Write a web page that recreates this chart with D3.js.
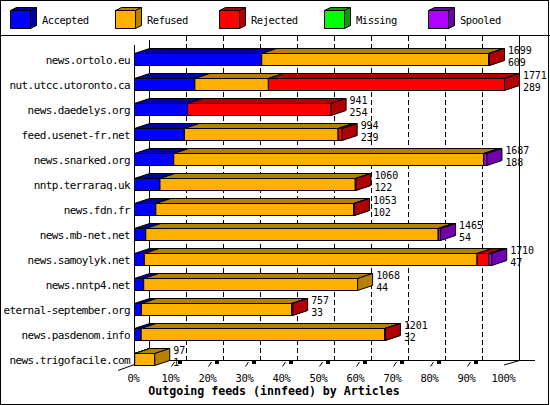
<!DOCTYPE html>
<html><head><meta charset="utf-8">
<script src="https://cdn.jsdelivr.net/npm/d3@7"></script>
<style>
html,body{margin:0;padding:0;background:#fff;}
svg{display:block;}
text{font-family:"DejaVu Sans Mono","Liberation Mono",monospace;}
</style></head>
<body>
<script>
const hosts = ["news.ortolo.eu","nut.utcc.utoronto.ca","news.daedelys.org","feed.usenet-fr.net","news.snarked.org","nntp.terraraq.uk","news.fdn.fr","news.mb-net.net","news.samoylyk.net","news.nntp4.net","eternal-september.org","news.pasdenom.info","news.trigofacile.com"];
const accepted = [609,289,254,239,188,122,102,54,47,44,33,32,1];
const refused  = [1086,352,0,736,1484,935,948,1400,1593,1024,720,1166,96];
const rejected = [4,1130,687,19,0,3,3,0,56,0,4,3,0];
const missing  = [0,0,0,0,0,0,0,0,0,0,0,0,0];
const spooled  = [0,0,0,0,15,0,0,11,14,0,0,0,0];
const seriesNames = ["Accepted","Refused","Rejected","Missing","Spooled"];
const seriesFront = ["#0000ff","#ffb000","#ff0000","#00ff00","#b000ff"];
const seriesDark  = ["#0000a8","#b88000","#b00000","#00a000","#7000b0"];
const tickValues = [0,10,20,30,40,50,60,70,80,90,100];
const title = "Outgoing feeds (innfeed) by Articles";

const W = 550, H = 405, DX = 15, DY = 5;
const series = [accepted, refused, rejected, missing, spooled];
const totals = hosts.map((h,i)=>d3.sum(series, s=>s[i]));
const maxTotal = d3.max(totals);

const svg = d3.select("body").append("svg").attr("width",W).attr("height",H);
svg.append("rect").attr("width",W).attr("height",H).attr("fill","#fff");

const x = d3.scaleLinear().domain([0,100]).range([134,504]);
const pct = v => v / maxTotal * 100;
const y = d3.scaleBand().domain(hosts).range([46.5,371.5]).paddingInner(0.52).paddingOuter(0.26);

// back wall grid lines
const g = svg.append("g").attr("shape-rendering","crispEdges");
g.selectAll("line.grid").data(tickValues.slice(1,10)).join("line")
  .attr("x1",d=>x(d)+DX+0.5).attr("x2",d=>x(d)+DX+0.5)
  .attr("y1",36).attr("y2",361).attr("stroke","#000").attr("stroke-dasharray","5,3");
g.append("line").attr("x1",x(0)+DX+0.5).attr("x2",x(0)+DX+0.5).attr("y1",40).attr("y2",361).attr("stroke","#000");
g.append("line").attr("x1",x(100)+DX+0.5).attr("x2",x(100)+DX+0.5).attr("y1",36).attr("y2",361).attr("stroke","#000");
g.append("line").attr("x1",x(0)).attr("x2",535).attr("y1",360.5).attr("y2",360.5).attr("stroke","#000");
g.append("line").attr("x1",x(0)+0.5).attr("x2",x(0)+0.5).attr("y1",45).attr("y2",365).attr("stroke","#000");
svg.append("line").attr("x1",118).attr("y1",370.5).attr("x2",x(0)+0.5).attr("y2",364.5).attr("stroke","#000");
svg.append("line").attr("x1",x(100)).attr("y1",365).attr("x2",x(100)+DX+0.5).attr("y2",360.5).attr("stroke","#000");

// front ticks
const tk = svg.append("g");
tickValues.slice(1,10).forEach(v=>{
  tk.append("line").attr("x1",x(v)+0.5).attr("y1",366.5).attr("x2",x(v)+3.5).attr("y2",362).attr("stroke","#000");
  tk.append("rect").attr("x",x(v)+7).attr("y",360.5).attr("width",4).attr("height",3).attr("fill","#000").attr("shape-rendering","crispEdges");
});
svg.append("g").selectAll("text").data(tickValues).join("text")
  .attr("x",d=>x(d)-0.5).attr("y",381.5).attr("text-anchor","middle")
  .attr("font-size","10.5px").attr("letter-spacing","-0.3px").text(d=>d+"%");

// bars
const poly = pts => pts.map(p=>p.join(",")).join(" ");
const bars = svg.append("g");
hosts.forEach((h,i)=>{
  const t = y(h)+0.5, b = t + y.bandwidth();
  let cum = 0;
  series.forEach((s,k)=>{
    const v = s[i];
    if (v<=0) return;
    const x0 = x(pct(cum))+0.5, x1 = x(pct(cum+v))+0.5;
    cum += v;
    const gg = bars.append("g").attr("stroke","#000").attr("stroke-width",1).attr("stroke-linejoin","miter");
    gg.append("polygon").attr("points",poly([[x0,t],[x1,t],[x1,b],[x0,b]])).attr("fill",seriesFront[k]);
    gg.append("polygon").attr("points",poly([[x0,t],[x0+DX,t-DY],[x1+DX,t-DY],[x1,t]])).attr("fill",seriesDark[k]);
    gg.append("polygon").attr("points",poly([[x1,t],[x1+DX,t-DY],[x1+DX,b-DY],[x1,b]])).attr("fill",seriesDark[k]);
  });
});

// row labels
svg.append("g").selectAll("text").data(hosts).join("text")
  .attr("x",130).attr("y",d=>y(d)+10.5).attr("text-anchor","end")
  .attr("font-size","11px").attr("letter-spacing","-0.6px").text(d=>d);

// value labels
const vl = svg.append("g").attr("font-size","10px").attr("letter-spacing","-0.1px");
hosts.forEach((h,i)=>{
  const xe = x(pct(totals[i])) + DX + 4;
  vl.append("text").attr("x",xe).attr("y",y(h)+0.5).text(totals[i]);
  vl.append("text").attr("x",xe).attr("y",y(h)+12.5).text(accepted[i]);
});

// title
svg.append("text").attr("x",274).attr("y",395).attr("text-anchor","middle")
  .attr("font-size","11.6px").attr("font-weight","bold").text(title);

// legend
const lg = svg.append("g");
seriesNames.forEach((n,k)=>{
  const lx = 10 + k*104.5, ly = 10.5, w = 20, hh = 18, dx = 6, dy = 3;
  const x0 = Math.round(lx)+0.5, x1 = x0+w;
  const gg = lg.append("g").attr("stroke","#000");
  gg.append("polygon").attr("points",poly([[x0,ly],[x1,ly],[x1,ly+hh],[x0,ly+hh]])).attr("fill",seriesFront[k]);
  gg.append("polygon").attr("points",poly([[x0,ly],[x0+dx,ly-dy],[x1+dx,ly-dy],[x1,ly]])).attr("fill",seriesDark[k]);
  gg.append("polygon").attr("points",poly([[x1,ly],[x1+dx,ly-dy],[x1+dx,ly+hh-dy],[x1,ly+hh]])).attr("fill",seriesDark[k]);
  lg.append("text").attr("x",Math.round(lx)+32).attr("y",23.5).attr("font-size","10.5px").attr("letter-spacing","-0.5px").text(n);
});
svg.append("line").attr("x1",0).attr("x2",W).attr("y1",35.5).attr("y2",35.5).attr("stroke","#000");

// outer border
svg.append("rect").attr("x",0.5).attr("y",0.5).attr("width",548).attr("height",403.5)
  .attr("fill","none").attr("stroke","#000").attr("shape-rendering","crispEdges");
</script>
</body></html>
